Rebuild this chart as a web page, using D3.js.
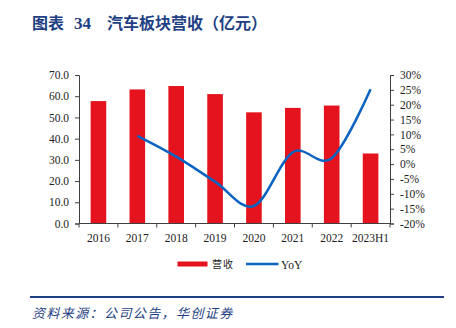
<!DOCTYPE html>
<html><head><meta charset="utf-8">
<script src="https://cdn.jsdelivr.net/npm/d3@7"></script>
<style>
body{margin:0;background:#fff;}
svg{display:block;}
</style></head>
<body>
<svg id="c" width="456" height="328"></svg>
<script>
const categories = ["2016","2017","2018","2019","2020","2021","2022","2023H1"];
const revenue = [57.7, 63.2, 64.8, 61.0, 52.4, 54.5, 55.6, 33.0];
const yoy = [null, 9.5, 2.5, -5.9, -14.1, 4.0, 2.0, 25.2];
const leftTicks = [0,10,20,30,40,50,60,70];
const rightTicks = [-20,-15,-10,-5,0,5,10,15,20,25,30];
const titleParts = ["图表","34","汽车板块营收（亿元）"];
const sourceText = "资料来源：公司公告，华创证券";
const legendLabels = ["营收","YoY"];

const svg = d3.select("#c");
const serif = "'Liberation Serif','Times New Roman',serif";
const cjk = "'Noto Sans CJK SC',sans-serif";
const axisColor = "#404040";
const red = "#E5131D", blue = "#0A63C0", navy = "#1F3F84";

const pLeft = 79, pRight = 390, pTop = 75, pBottom = 223.5;
const xb = d3.scaleBand().domain(categories).range([pLeft, pRight]);
const y = d3.scaleLinear().domain([0,70]).range([pBottom, pTop]);
const y2 = d3.scaleLinear().domain([-20,30]).range([pBottom, pTop]);

// title
const t = svg.append("text").attr("y",29).attr("fill",navy).attr("font-weight","bold").attr("font-size",16);
t.append("tspan").attr("x",32).attr("font-family",cjk).text(titleParts[0]);
t.append("tspan").attr("x",74).attr("font-family",serif).attr("font-size",17).text(titleParts[1]);
t.append("tspan").attr("x",107).attr("font-family",cjk).text(titleParts[2]);

// bars
svg.append("g").selectAll("rect").data(categories).join("rect")
  .attr("x", d => xb(d) + xb.bandwidth()/2 - 7.8)
  .attr("width", 15.6)
  .attr("y", (d,i) => y(revenue[i]))
  .attr("height", (d,i) => y(0) - y(revenue[i]))
  .attr("fill", red);

// line
const pts = categories.map((c,i)=>[xb(c)+xb.bandwidth()/2, yoy[i]]).filter(p=>p[1]!==null);
const line = d3.line().x(p=>p[0]).y(p=>y2(p[1])).curve(d3.curveCatmullRom.alpha(0));
svg.append("path").attr("d", line(pts)).attr("fill","none").attr("stroke",blue).attr("stroke-width",2.5);

// axes
function styleAxis(g){
  g.selectAll("path,line").attr("stroke",axisColor);
  g.selectAll("text").attr("font-family",serif).attr("font-size",11.5).attr("fill","#222");
}
const gl = svg.append("g").attr("transform",`translate(${pLeft},0)`)
  .call(d3.axisLeft(y).tickValues(leftTicks).tickFormat(d=>d.toFixed(1)).tickSizeOuter(0).tickSize(4).tickPadding(6));
styleAxis(gl);
const gr = svg.append("g").attr("transform",`translate(${pRight},0)`)
  .call(d3.axisRight(y2).tickValues(rightTicks).tickFormat(d=>d+"%").tickSizeOuter(0).tickSize(4).tickPadding(6));
styleAxis(gr);
const gb = svg.append("g").attr("transform",`translate(0,${pBottom})`)
  .call(d3.axisBottom(xb).tickSize(0).tickPadding(10));
gb.select(".domain").remove();
styleAxis(gb);
svg.append("line").attr("x1",pLeft).attr("x2",pRight).attr("y1",pBottom).attr("y2",pBottom).attr("stroke",axisColor);
svg.append("g").selectAll("line").data(categories).join("line")
  .attr("x1",d=>xb(d)).attr("x2",d=>xb(d)).attr("y1",pBottom).attr("y2",pBottom+4).attr("stroke",axisColor);
svg.append("line").attr("x1",pRight).attr("x2",pRight).attr("y1",pBottom).attr("y2",pBottom+4).attr("stroke",axisColor);

// legend
svg.append("rect").attr("x",177.5).attr("y",261.5).attr("width",30).attr("height",5).attr("fill",red);
svg.append("text").attr("x",212).attr("y",268).attr("font-family",cjk).attr("letter-spacing",1)
  .attr("font-size",10).attr("fill","#222").text(legendLabels[0]);
svg.append("line").attr("x1",246).attr("x2",278.5).attr("y1",264).attr("y2",264).attr("stroke",blue).attr("stroke-width",2.5);
svg.append("text").attr("x",281).attr("y",268.5).attr("font-family",serif)
  .attr("font-size",11.5).attr("fill","#222").text(legendLabels[1]);

// source
svg.append("line").attr("x1",30).attr("x2",444).attr("y1",297).attr("y2",297).attr("stroke",navy).attr("stroke-width",2);
svg.append("text").attr("x",32).attr("y",318).attr("fill",navy)
  .attr("font-family",cjk).attr("font-style","italic").attr("font-size",13).attr("letter-spacing",1.4)
  .text(sourceText);
</script>
</body></html>
